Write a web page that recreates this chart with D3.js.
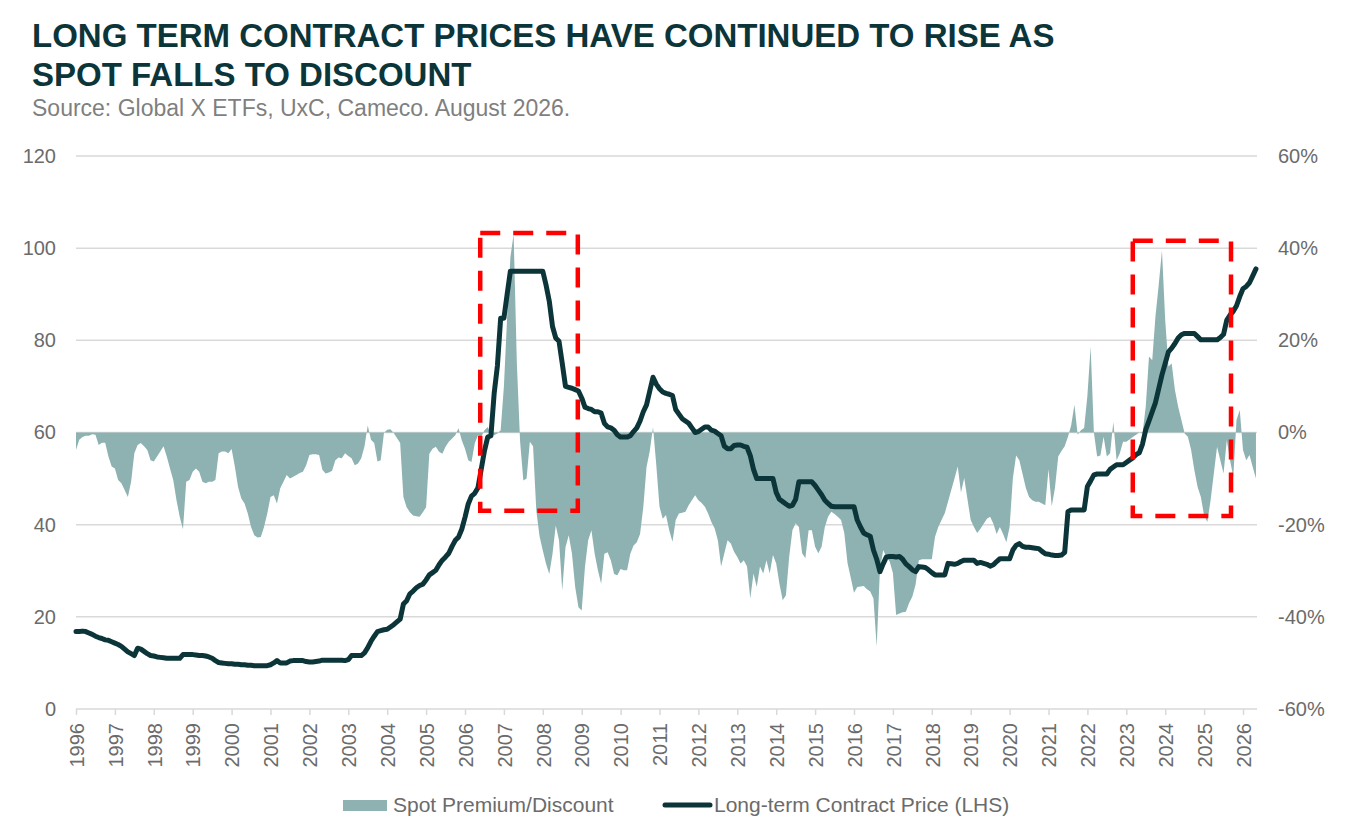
<!DOCTYPE html>
<html>
<head>
<meta charset="utf-8">
<script src="https://cdn.jsdelivr.net/npm/d3@7"></script>
<style>
  body { margin: 0; background: #fff; }
  text { font-family: "Liberation Sans", Arial, Helvetica, sans-serif; }
</style>
</head>
<body>
<div id="chart"></div>
<script>
// Year tick labels (one tick per January)
const yearLabels = ['1996','1997','1998','1999','2000','2001','2002','2003','2004','2005','2006',
    '2007','2008','2009','2010','2011','2012','2013','2014','2015','2016','2017','2018','2019',
    '2020','2021','2022','2023','2024','2025','2026'];

const leftTicks = [0, 20, 40, 60, 80, 100, 120];
const rightTicks = [-60, -40, -20, 0, 20, 40, 60];

// Spot premium / discount to long-term price (%), monthly from Jan 1996
const spotPremium = [
    -3.8, -1.6, -1.0, -0.7, -0.7, -0.4, -0.5, -2.7, -2.2, -2.2, -5.2, -7.4,        // 1996
    -7.8, -10.3, -11.0, -12.5, -14.0, -10.7, -4.5, -2.7, -2.3, -3.0, -3.8, -6.0,   // 1997
    -6.3, -5.2, -4.1, -3.0, -5.2, -7.8, -10.3, -14.7, -18.3, -21.0, -10.7, -10.3,  // 1998
    -8.5, -7.8, -8.5, -10.7, -11.0, -10.7, -10.7, -10.3, -4.5, -4.1, -4.1, -4.5,   // 1999
    -3.6, -7.4, -11.8, -14.3, -15.4, -17.6, -20.5, -22.3, -22.8, -22.7, -20.5, -17.6, // 2000
    -14.0, -13.6, -15.4, -12.1, -10.7, -9.2, -10.0, -9.6, -9.2, -8.8, -8.5, -7.1,  // 2001
    -4.9, -4.7, -4.7, -4.9, -8.1, -8.9, -8.7, -8.3, -6.0, -5.4, -5.6, -4.5,        // 2002
    -5.1, -5.6, -7.1, -6.7, -5.6, -3.0, 1.5, -1.6, -2.3, -6.3, -6.0, -0.1,         // 2003
    0.6, 0.7, -0.1, -1.2, -2.3, -14.0, -16.2, -17.3, -18.0, -18.2, -18.3, -17.3,   // 2004
    -16.2, -4.6, -3.5, -3.1, -4.2, -4.6, -3.1, -2.0, -1.3, -0.6, 0.9, -1.7,        // 2005
    -3.5, -6.0, -6.4, -2.4, -0.6, -1.0, 0.5, 1.2, -0.2, -0.6, -0.2, 0.5,           // 2006
    10, 25, 38, 43, 15, -2, -10.4, -10, -2, -3, -17, -22.5,                        // 2007
    -25.6, -28.5, -30.7, -26.3, -20.2, -23.4, -34.3, -24.9, -22.3, -26.3, -33.6, -37.9, // 2008
    -38.6, -29.2, -23.4, -21.2, -26.3, -29.9, -32.8, -26.3, -26.0, -27.8, -30.7, -31.0, // 2009
    -29.6, -29.9, -29.9, -26.3, -24.5, -23.8, -22.0, -16.2, -7.5, -4.0, 1.2, -7.0, // 2010
    -16.1, -18.7, -17.9, -21.2, -23.7, -19.0, -17.6, -17.4, -17.2, -15.8, -14.7, -13.6, // 2011
    -14.7, -15.3, -16.1, -17.6, -19.4, -20.8, -23.4, -29.1, -26.2, -23.4, -24.1, -25.9, // 2012
    -27.0, -28.4, -27.7, -29.1, -36.0, -30.6, -33.5, -29.1, -30.6, -27.7, -30.6, -26.6, // 2013
    -28.4, -32.8, -36.4, -35.3, -27.0, -21.2, -19.7, -20.5, -26.2, -27.3, -21.2, -21.2, // 2014
    -24.8, -26.2, -24.8, -20.5, -18.3, -17.2, -17.7, -18.3, -19.0, -21.8, -28.3, -31.5, // 2015
    -34.8, -33.5, -33.4, -33.3, -34.0, -34.5, -36.0, -46.5, -29.8, -25.5, -27.0, -28.0, // 2016
    -30.5, -39.6, -39.3, -39.0, -38.9, -37.0, -35.6, -33.0, -27.7, -27.5, -27.5, -27.5, // 2017
    -27.5, -22.6, -20.5, -19.0, -17.5, -15.0, -12.5, -10.0, -7.4, -13.0, -9.9, -14.5, // 2018
    -19.0, -20.5, -21.8, -20.9, -19.8, -18.7, -18.3, -19.8, -22.0, -20.5, -22.0, -23.8, // 2019
    -20.5, -10.0, -5.0, -6.0, -9.0, -12.0, -14.0, -14.7, -15.0, -15.0, -15.4, -15.8, // 2020
    -8.0, -16.0, -12.0, -5.2, -4.0, -3.0, -0.9, 1.6, 6.0, -0.5, 0.5, 1.0,          // 2021
    8, 18.6, 0, -5.2, -5.0, -0.9, -5.2, -4.5, 2.3, -6.0, -4.5, -2.0,               // 2022
    -2.0, -1.5, -1.0, -0.5, 0, -0.2, 5.6, 16.5, 15.7, 25.2, 32, 39.5,              // 2023
    24.4, 14.3, 15.0, 9.2, 5.6, 2.7, -0.2, -0.9, -3.8, -8.2, -11.8, -14.0,         // 2024
    -18.0, -19.4, -14.7, -8.9, -3.1, -6.0, -8.9, -1.7, -6.0, -9.6, 2.7, 4.9,       // 2025
    -3.8, -6.0, -4.9, -7.5, -10.0                                                  // 2026
];

// Long-term contract price (US$/lb, LHS), monthly from Jan 1996
const contractPrice = [
    16.8, 16.8, 16.9, 16.8, 16.5, 16.2, 15.8, 15.5, 15.3, 15.0, 14.9, 14.6,   // 1996
    14.3, 14.0, 13.6, 13.0, 12.4, 12.0, 11.6, 13.2, 13.0, 12.5, 12.0, 11.6,   // 1997
    11.5, 11.3, 11.2, 11.1, 11.0, 11.0, 11.0, 11.0, 11.0, 11.8, 11.8, 11.8,   // 1998
    11.8, 11.7, 11.6, 11.6, 11.5, 11.3, 11.0, 10.5, 10.1, 10.0, 9.9, 9.8,     // 1999
    9.8, 9.7, 9.7, 9.6, 9.6, 9.5, 9.5, 9.4, 9.4, 9.4, 9.4, 9.4,               // 2000
    9.6, 10.0, 10.5, 10.0, 10.0, 10.0, 10.4, 10.5, 10.5, 10.5, 10.5, 10.3,    // 2001
    10.2, 10.2, 10.3, 10.4, 10.6, 10.6, 10.6, 10.6, 10.6, 10.6, 10.6, 10.5,   // 2002
    10.7, 11.6, 11.6, 11.6, 11.6, 12.2, 13.3, 14.7, 15.8, 16.8, 17.0, 17.2,   // 2003
    17.3, 17.8, 18.3, 18.9, 19.5, 22.8, 23.5, 25.0, 25.6, 26.3, 26.8, 27.1,   // 2004
    28.0, 29.1, 29.6, 30.1, 31.3, 32.3, 33.0, 33.8, 35.3, 36.6, 37.3, 39.0,   // 2005
    41.6, 44.5, 46.2, 46.8, 48.0, 52.0, 56.0, 59.0, 59.3, 68.5, 74.5, 84.8,   // 2006
    84.8, 90, 95, 95, 95, 95, 95, 95, 95, 95, 95, 95,                         // 2007
    95, 92, 88.5, 83, 80.5, 79.8, 75, 70, 69.8, 69.6, 69.3, 69,               // 2008
    67.5, 65.5, 65.2, 65, 64.5, 64.5, 64.2, 62, 61.2, 61, 60.5, 59.5,         // 2009
    59, 59, 59, 59.3, 60.2, 61, 62.5, 64.5, 66, 69, 72, 70.5,                 // 2010
    69.5, 68.8, 68.5, 68.3, 68, 65, 64, 63, 62.5, 62, 61, 60,                 // 2011
    60.2, 60.7, 61.2, 61.2, 60.5, 60.3, 59.8, 59.3, 57, 56.5, 56.5, 57.2,     // 2012
    57.3, 57.3, 57, 56.8, 55, 52, 50, 50, 50, 50, 50, 50,                     // 2013
    47, 45.5, 45, 44.5, 44, 44.2, 45.5, 49.3, 49.3, 49.3, 49.3, 49.3,         // 2014
    48.5, 47.5, 46.5, 45.3, 44.6, 44, 43.9, 43.9, 43.9, 43.9, 43.9, 43.9,     // 2015
    43.9, 41.0, 39.5, 38.2, 37.8, 37.5, 34.5, 32.5, 29.8, 31.5, 33.0, 33.1,   // 2016
    33.1, 33.0, 33.1, 32.5, 31.5, 30.9, 30.2, 29.8, 30.9, 30.8, 30.7, 30.2,   // 2017
    29.6, 29.1, 29.1, 29.1, 29.1, 31.6, 31.5, 31.4, 31.6, 32.0, 32.3, 32.3,   // 2018
    32.3, 32.3, 31.6, 31.8, 31.6, 31.4, 31.0, 31.3, 32.0, 32.6, 32.6, 32.6,   // 2019
    32.6, 34.5, 35.5, 35.9, 35.3, 35.1, 35.1, 35.0, 34.9, 34.8, 34.2, 33.7,   // 2020
    33.6, 33.4, 33.3, 33.3, 33.4, 34.0, 42.8, 43.2, 43.2, 43.2, 43.2, 43.2,   // 2021
    48.3, 49.5, 50.8, 51.0, 51.0, 51.0, 51.0, 52.0, 52.5, 53.0, 53.0, 53.0,   // 2022
    53.5, 54.0, 54.5, 55.2, 55.6, 57.5, 60.6, 62.5, 64.5, 66.5, 69.5, 72.5,   // 2023
    75, 77.5, 78.3, 79.3, 80.5, 81.2, 81.5, 81.5, 81.5, 81.5, 80.8, 80.1,     // 2024
    80.1, 80.1, 80.1, 80.1, 80.1, 80.6, 81.3, 84.4, 85.5, 86.3, 87.5, 89.5,   // 2025
    91.2, 91.7, 92.5, 94.0, 95.5                                              // 2026
];

// Highlight boxes: [start month index, end month index, top LHS value, bottom LHS value]
const highlightBoxes = [
    [124.7, 154.8, 103.3, 43.0],
    [326.0, 356.3, 101.6, 41.9]
];

const width = 1350;
const height = 839;
const plot = { left: 76, right: 1257, top: 156, bottom: 709 };

const areaColor = '#8db2b1';
const lineColor = '#0c3539';
const gridColor = '#d9d9d9';
const labelColor = '#6b6b6b';

const svg = d3.select('#chart')
    .append('svg')
    .attr('width', width)
    .attr('height', height);

svg.append('rect').attr('width', width).attr('height', height).attr('fill', '#fff');

// Title + source
svg.append('text')
    .attr('x', 32).attr('y', 47)
    .style('font-size', '33px').style('font-weight', 'bold')
    .attr('fill', lineColor)
    .text('LONG TERM CONTRACT PRICES HAVE CONTINUED TO RISE AS');
svg.append('text')
    .attr('x', 32).attr('y', 86)
    .style('font-size', '33px').style('font-weight', 'bold')
    .attr('fill', lineColor)
    .text('SPOT FALLS TO DISCOUNT');
svg.append('text')
    .attr('x', 32).attr('y', 116)
    .style('font-size', '23px')
    .attr('fill', '#7f7f7f')
    .text('Source: Global X ETFs, UxC, Cameco. August 2026.');

// Scales (x = month index from Jan 1996, 12 per year)
const xScale = d3.scaleLinear()
    .domain([0, 360])
    .range([plot.left, 1243]);

const yLeft = d3.scaleLinear()
    .domain([0, 120])
    .range([plot.bottom, plot.top]);

const yRight = d3.scaleLinear()
    .domain([-60, 60])
    .range([plot.bottom, plot.top]);

// Gridlines
svg.append('g')
    .selectAll('line')
    .data(leftTicks)
    .enter().append('line')
    .attr('x1', plot.left).attr('x2', plot.right)
    .attr('y1', d => yLeft(d)).attr('y2', d => yLeft(d))
    .attr('stroke', gridColor)
    .attr('stroke-width', 1.5);

// Left axis labels
const leftAxis = svg.append('g')
    .attr('transform', `translate(${plot.left},0)`)
    .call(d3.axisLeft(yLeft).tickValues(leftTicks).tickSize(0).tickPadding(20));
leftAxis.select('.domain').remove();
leftAxis.selectAll('text')
    .style('font-size', '20px')
    .style('font-family', '"Liberation Sans", Arial, sans-serif')
    .attr('fill', labelColor);

// Right axis labels
const rightAxis = svg.append('g')
    .attr('transform', `translate(${plot.right},0)`)
    .call(d3.axisRight(yRight).tickValues(rightTicks).tickSize(0).tickPadding(21)
        .tickFormat(d => d + '%'));
rightAxis.select('.domain').remove();
rightAxis.selectAll('text')
    .style('font-size', '20px')
    .style('font-family', '"Liberation Sans", Arial, sans-serif')
    .attr('fill', labelColor);

// Spot premium / discount area
const area = d3.area()
    .x((d, i) => xScale(i))
    .y0(yRight(0))
    .y1(d => yRight(d));

svg.append('path')
    .datum(spotPremium)
    .attr('fill', areaColor)
    .attr('d', area);

// X axis
const xAxis = svg.append('g')
    .attr('transform', `translate(0,${plot.bottom})`)
    .call(d3.axisBottom(xScale)
        .tickValues(yearLabels.map((d, i) => i * 12))
        .tickSize(6)
        .tickFormat((d, i) => yearLabels[i]));
xAxis.select('.domain').remove();
xAxis.selectAll('.tick line')
    .attr('stroke', gridColor)
    .attr('stroke-width', 1.5);
xAxis.selectAll('text')
    .attr('transform', 'rotate(-90)')
    .attr('x', -14)
    .attr('y', 0)
    .attr('dy', '0.36em')
    .style('text-anchor', 'end')
    .style('font-size', '20px')
    .style('font-family', '"Liberation Sans", Arial, sans-serif')
    .attr('fill', labelColor);

// Long-term contract price line
const line = d3.line()
    .x((d, i) => xScale(i))
    .y(d => yLeft(d));

svg.append('path')
    .datum(contractPrice)
    .attr('fill', 'none')
    .attr('stroke', lineColor)
    .attr('stroke-width', 5)
    .attr('stroke-linejoin', 'round')
    .attr('stroke-linecap', 'round')
    .attr('d', line);

// Red dashed highlight boxes
svg.append('g')
    .selectAll('rect')
    .data(highlightBoxes)
    .enter().append('rect')
    .attr('x', d => xScale(d[0]))
    .attr('y', d => yLeft(d[2]))
    .attr('width', d => xScale(d[1]) - xScale(d[0]))
    .attr('height', d => yLeft(d[3]) - yLeft(d[2]))
    .attr('fill', 'none')
    .attr('stroke', '#ff0000')
    .attr('stroke-width', 4.5)
    .attr('stroke-dasharray', '20,13');

// Legend
const legend = svg.append('g');
legend.append('rect')
    .attr('x', 343).attr('y', 800)
    .attr('width', 44).attr('height', 11)
    .attr('fill', areaColor);
legend.append('text')
    .attr('x', 393).attr('y', 812)
    .style('font-size', '21px')
    .attr('fill', labelColor)
    .text('Spot Premium/Discount');
legend.append('line')
    .attr('x1', 665).attr('x2', 710)
    .attr('y1', 805).attr('y2', 805)
    .attr('stroke', lineColor)
    .attr('stroke-width', 5)
    .attr('stroke-linecap', 'round');
legend.append('text')
    .attr('x', 714).attr('y', 812)
    .style('font-size', '21px')
    .attr('fill', labelColor)
    .text('Long-term Contract Price (LHS)');
</script>
</body>
</html>
